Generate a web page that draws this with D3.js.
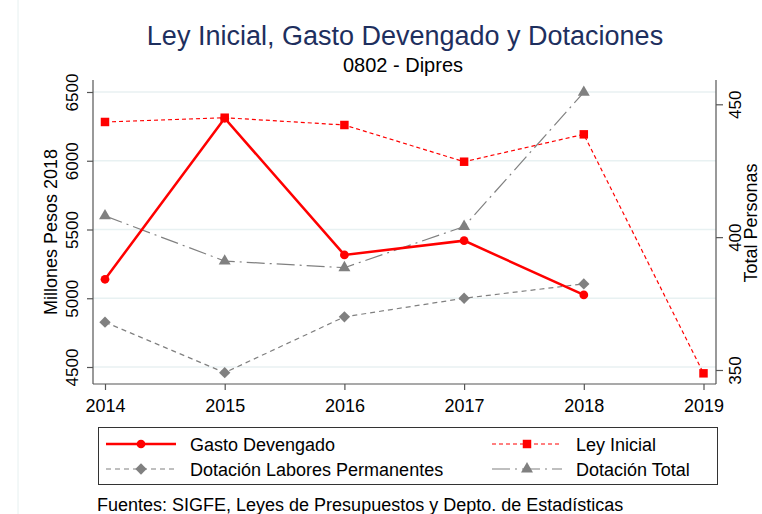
<!DOCTYPE html>
<html>
<head>
<meta charset="utf-8">
<script src="https://cdn.jsdelivr.net/npm/d3@7"></script>
<style>
  body { margin: 0; background: #fff; }
  text { font-family: "Liberation Sans", Arial, sans-serif; }
</style>
</head>
<body>
<svg id="chart" width="762" height="514"></svg>
<script>
// data
const years = [2014, 2015, 2016, 2017, 2018, 2019];
const gastoYears = [2014, 2015, 2016, 2017, 2018];
const gasto = [5138, 6309, 5315, 5419, 5024];
const leyInicial = [6282, 6313, 6260, 5993, 6192, 4454];
const dotLabores = [368, 349, 370, 377, 382.4];
const dotTotal = [408, 391, 388.5, 404, 454.5];
const leftTicks = [4500, 5000, 5500, 6000, 6500];
const rightTicks = [350, 400, 450];

const svg = d3.select('#chart');
const axisColor = '#555';
const red = '#ff0000';
const grey = '#808080';

const x = d3.scaleLinear().domain([2014, 2019]).range([105, 703.5]);
const yL = d3.scaleLinear().domain([4500, 6500]).range([367, 92]);
const yR = d3.scaleLinear().domain([350, 450]).range([370, 104.3]);

const plot = { left: 93, right: 716, top: 80, bottom: 384 };

// faint frame line on the left
svg.append('line')
    .attr('x1', 18).attr('x2', 18).attr('y1', 0).attr('y2', 514)
    .attr('stroke', '#e6f0f0').attr('stroke-width', 1);

// gridlines
svg.append('g')
    .selectAll('line')
    .data(leftTicks)
    .enter().append('line')
    .attr('x1', plot.left).attr('x2', plot.right)
    .attr('y1', d => yL(d)).attr('y2', d => yL(d))
    .attr('stroke', '#e8f1f2').attr('stroke-width', 1.5);

// titles
svg.append('text')
    .attr('x', 405).attr('y', 45)
    .attr('text-anchor', 'middle')
    .attr('font-size', 27)
    .attr('fill', '#1e2f5e')
    .text('Ley Inicial, Gasto Devengado y Dotaciones');

svg.append('text')
    .attr('x', 403).attr('y', 72)
    .attr('text-anchor', 'middle')
    .attr('font-size', 20)
    .attr('fill', '#000')
    .text('0802 - Dipres');

// axes
const gx = svg.append('g')
    .attr('transform', `translate(0,${plot.bottom})`)
    .call(d3.axisBottom(x).tickValues(years).tickFormat(d3.format('d')).tickSize(6).tickSizeOuter(0));
gx.select('.domain').attr('d', `M${plot.left},0H${plot.right}`);
gx.selectAll('text').attr('font-size', 18).attr('dy', '1.05em').attr('fill', '#000');

const gl = svg.append('g')
    .attr('transform', `translate(${plot.left},0)`)
    .call(d3.axisLeft(yL).tickValues(leftTicks).tickFormat(d3.format('d')).tickSize(6).tickSizeOuter(0));
gl.select('.domain').attr('d', `M0,${plot.top}V${plot.bottom}`);
gl.selectAll('text')
    .attr('font-size', 17).attr('fill', '#000')
    .attr('x', 0).attr('y', 0).attr('dy', 0)
    .attr('text-anchor', 'middle')
    .attr('transform', 'translate(-15,0) rotate(-90)');

const gr = svg.append('g')
    .attr('transform', `translate(${plot.right},0)`)
    .call(d3.axisRight(yR).tickValues(rightTicks).tickFormat(d3.format('d')).tickSize(7).tickSizeOuter(0));
gr.select('.domain').attr('d', `M0,${plot.top}V${plot.bottom}`);
gr.selectAll('text')
    .attr('font-size', 17).attr('fill', '#000')
    .attr('x', 0).attr('y', 0).attr('dy', 0)
    .attr('text-anchor', 'middle')
    .attr('transform', 'translate(25,0) rotate(-90)');

svg.selectAll('.domain, .tick line').attr('stroke', axisColor).attr('stroke-width', 1.2);

// axis titles
svg.append('text')
    .attr('transform', `translate(57,${(plot.top + plot.bottom) / 2}) rotate(-90)`)
    .attr('text-anchor', 'middle')
    .attr('font-size', 18)
    .text('Millones Pesos 2018');

svg.append('text')
    .attr('transform', `translate(757,${(plot.top + plot.bottom) / 2 - 9}) rotate(-90)`)
    .attr('text-anchor', 'middle')
    .attr('font-size', 18)
    .text('Total Personas');

// series
const series = [
    { name: 'Gasto Devengado', xs: gastoYears, ys: gasto, y: yL, color: red, width: 2.5, dash: null, marker: 'circle' },
    { name: 'Ley Inicial', xs: years, ys: leyInicial, y: yL, color: red, width: 1.2, dash: '4,3', marker: 'square' },
    { name: 'Dotación Labores Permanentes', xs: gastoYears, ys: dotLabores, y: yR, color: grey, width: 1.2, dash: '5,4', marker: 'diamond' },
    { name: 'Dotación Total', xs: gastoYears, ys: dotTotal, y: yR, color: grey, width: 1.2, dash: '18,5,2,5', marker: 'triangle' }
];

const symbols = {
    circle: d3.symbol().type(d3.symbolCircle).size(60),
    square: d3.symbol().type(d3.symbolSquare).size(72),
    diamond: d3.symbol().type(d3.symbolSquare).size(64),
    triangle: d3.symbol().type(d3.symbolTriangle).size(62)
};
const markerRot = { circle: 0, square: 0, diamond: 45, triangle: 0 };

const drawOrder = [3, 2, 1, 0];
drawOrder.forEach(i => {
    const s = series[i];
    const pts = s.xs.map((yr, j) => [x(yr), s.y(s.ys[j])]);
    svg.append('path')
        .datum(pts)
        .attr('fill', 'none')
        .attr('stroke', s.color)
        .attr('stroke-width', s.width)
        .attr('stroke-dasharray', s.dash)
        .attr('d', d3.line());
    svg.append('g')
        .selectAll('path')
        .data(pts)
        .enter().append('path')
        .attr('transform', d => `translate(${d[0]},${d[1]}) rotate(${markerRot[s.marker]})`)
        .attr('d', symbols[s.marker])
        .attr('fill', s.color);
});

// legend
const legend = svg.append('g');
legend.append('rect')
    .attr('x', 98.5).attr('y', 427.5).attr('width', 619).attr('height', 57)
    .attr('fill', '#fff').attr('stroke', '#333').attr('stroke-width', 1);

const legendPos = [
    { x: 106, y: 444 }, { x: 492, y: 444 },
    { x: 106, y: 469 }, { x: 492, y: 469 }
];
series.forEach((s, i) => {
    const p = legendPos[i];
    const item = legend.append('g').attr('transform', `translate(${p.x},${p.y})`);
    item.append('line')
        .attr('x1', 0).attr('x2', 70)
        .attr('stroke', s.color)
        .attr('stroke-width', s.width)
        .attr('stroke-dasharray', s.dash);
    item.append('path')
        .attr('transform', `translate(35,0) rotate(${markerRot[s.marker]})`)
        .attr('d', symbols[s.marker])
        .attr('fill', s.color);
    item.append('text')
        .attr('x', 84).attr('y', 6.5)
        .attr('font-size', 18)
        .text(s.name);
});

svg.append('text')
    .attr('x', 97).attr('y', 511)
    .attr('font-size', 18)
    .text('Fuentes: SIGFE, Leyes de Presupuestos y Depto. de Estadísticas');
</script>
</body>
</html>
